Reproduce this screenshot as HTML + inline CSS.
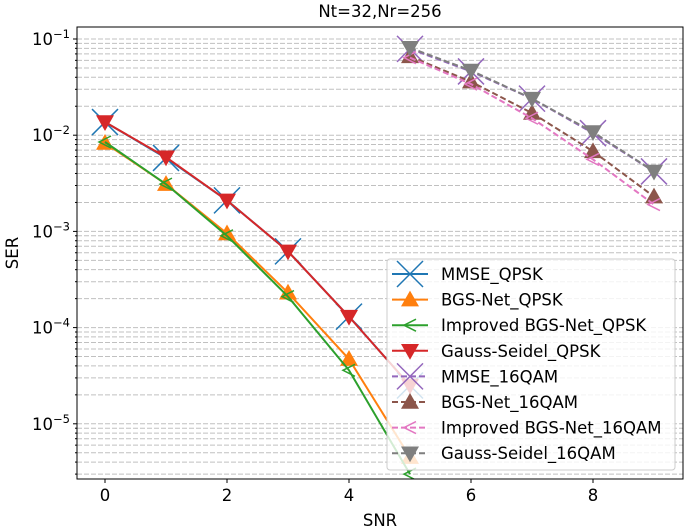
<!DOCTYPE html>
<html><head><meta charset="utf-8"><style>
body{margin:0;background:#fff;}
svg{display:block;font-family:"DejaVu Sans","Liberation Sans",sans-serif;}
</style></head><body>
<svg id="chart" width="685" height="529" viewBox="0 0 685 529" xmlns="http://www.w3.org/2000/svg">
<g id="grid"></g>
<g id="series"></g>
<rect x="77" y="27" width="606" height="452" fill="none" stroke="#000" stroke-width="1"/>
<g id="axes"></g>
<text x="380" y="17" font-size="16.5" text-anchor="middle">Nt=32,Nr=256</text>
<text x="380" y="526" font-size="16.5" text-anchor="middle">SNR</text>
<text transform="translate(18,253) rotate(-90)" font-size="16.5" text-anchor="middle">SER</text>
<g id="legend"></g>
</svg>
<script>
const snrQ=[0,1,2,3,4,5];
const snr16=[5,6,7,8,9];
const mmseQ=[0.0137,0.0058,0.0021,0.00062,0.00013,0.000025];
const bgsQ=[0.0083,0.0031,0.00095,0.00023,0.000047,0.0000045];
const impQ=[0.0085,0.0031,0.0009,0.00021,0.000036,0.000003];
const gsQ=[0.0137,0.0059,0.0021,0.00062,0.00013,0.000025];
const mmse16=[0.079,0.046,0.024,0.0105,0.0042];
const bgs16=[0.066,0.036,0.017,0.0068,0.0023];
const imp16=[0.064,0.034,0.015,0.0056,0.0019];
const gs16=[0.081,0.047,0.024,0.0108,0.0042];
const xTicks=[0,2,4,6,8];
const yDecades=[-1,-2,-3,-4,-5];
const labels=["MMSE_QPSK","BGS-Net_QPSK","Improved BGS-Net_QPSK","Gauss-Seidel_QPSK","MMSE_16QAM","BGS-Net_16QAM","Improved BGS-Net_16QAM","Gauss-Seidel_16QAM"];

const NS="http://www.w3.org/2000/svg";
const X=v=>105+v*61;
const Y=v=>39+(-1-Math.log10(v))*96.2;
function mk(tag,attrs,parent){const e=document.createElementNS(NS,tag);for(const k in attrs)e.setAttribute(k,attrs[k]);parent.appendChild(e);return e;}
const grid=document.getElementById('grid'),axes=document.getElementById('axes'),ser=document.getElementById('series'),leg=document.getElementById('legend');

for(let d=-6;d<=-1;d++){for(let m=1;m<=9;m++){const v=m*Math.pow(10,d);const y=Y(v);if(y<28||y>478)continue;
 const l=mk('line',{x1:77,x2:683,y1:y,y2:y,stroke:'#c0c0c0','stroke-width':1,'stroke-dasharray':'5,2'},grid);
 
 
 const t=mk('line',{x1:m==1?73:75,x2:77,y1:y,y2:y,stroke:'#000','stroke-width':1},axes);
 
 
}}
yDecades.forEach(d=>{const y=Y(Math.pow(10,d));const t=mk('text',{x:70,y:y+6,'font-size':16.5,'text-anchor':'end'},axes);
 
 
 t.innerHTML='10<tspan dy="-7" font-size="11.5">\u2212'+(-d)+'</tspan>';});
xTicks.forEach(v=>{const x=X(v);const l=mk('line',{x1:x,x2:x,y1:479,y2:483,stroke:'#000'},axes);
 
 
 const t=mk('text',{x:x,y:501,'font-size':16.5,'text-anchor':'middle'},axes);t.textContent=v;
 
 });

function marker(type,x,y,color,g,s){
 s=s||1;
 if(type==='X'){const r=13*s;mk('path',{d:`M${x-r},${y-r}L${x+r},${y+r}M${x-r},${y+r}L${x+r},${y-r}`,stroke:color,'stroke-width':1.5,fill:'none'},g);}
 else if(type==='^'){const r=9*s;mk('path',{d:`M${x},${y-r}L${x+r},${y+r*0.75}L${x-r},${y+r*0.75}Z`,fill:color},g);}
 else if(type==='v'){const r=9*s;mk('path',{d:`M${x},${y+r}L${x+r},${y-r*0.75}L${x-r},${y-r*0.75}Z`,fill:color},g);}
 else if(type==='<'){const r=6*s;mk('path',{d:`M${x+r},${y-r}L${x-r},${y}L${x+r},${y+r}`,stroke:color,'stroke-width':1.5,fill:'none'},g);}
}
const defs=[
 [snrQ,mmseQ,'#1f77b4','X',false],[snrQ,bgsQ,'#ff7f0e','^',false],[snrQ,impQ,'#2ca02c','<',false],[snrQ,gsQ,'#d62728','v',false],
 [snr16,mmse16,'#9467bd','X',true],[snr16,bgs16,'#8c564b','^',true],[snr16,imp16,'#e377c2','<',true],[snr16,gs16,'#7f7f7f','v',true]];
const cp=mk('clipPath',{id:'clip'},ser);
mk('rect',{x:77,y:27,width:606,height:452},cp);
defs.forEach((d,i)=>{const g=mk('g',{'clip-path':'url(#clip)'},ser);
 
 
 const pts=d[0].map((x,j)=>X(x)+','+Y(d[1][j])).join(' ');
 const a={points:pts,fill:'none',stroke:d[2],'stroke-width':2};if(d[4])a['stroke-dasharray']='6,3';
 mk('polyline',a,g);
 d[0].forEach((x,j)=>marker(d[3],X(x),Y(d[1][j]),d[2],g));
});
const lb=mk('rect',{x:387,y:259,width:288,height:211,rx:3,fill:'#fff','fill-opacity':0.8,stroke:'#ccc'},leg);


labels.forEach((t,i)=>{const y=274+i*25.6;const g=mk('g',{},leg);
 
 
 const d=defs[i];const a={x1:392,x2:428,y1:y,y2:y,stroke:d[2],'stroke-width':2};if(d[4])a['stroke-dasharray']='6,3';
 mk('line',a,g);marker(d[3],410,y,d[2],g);
 const tx=mk('text',{x:441,y:y+6,'font-size':16.5},g);tx.textContent=t;});
</script>
</body></html>
